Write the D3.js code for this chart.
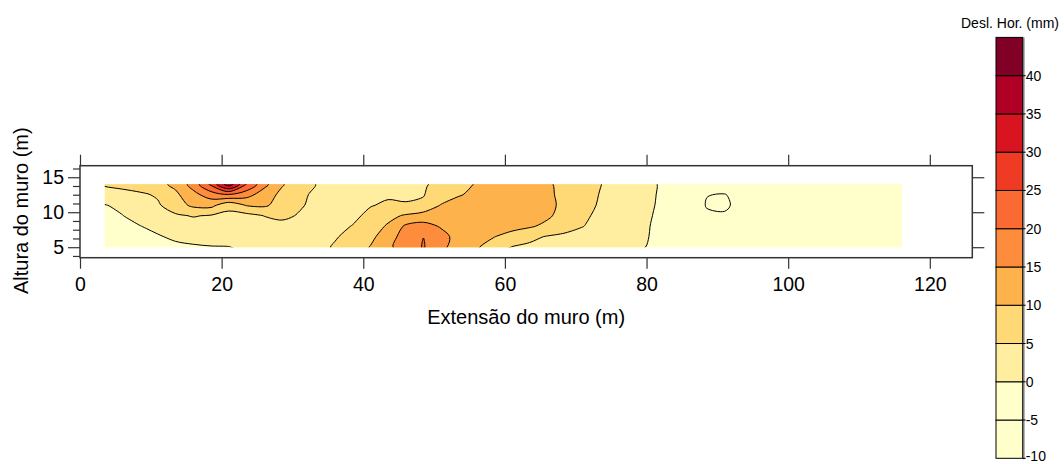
<!DOCTYPE html>
<html>
<head>
<meta charset="utf-8">
<script src="https://cdn.jsdelivr.net/npm/d3@7"></script>
<style>
  body { margin: 0; background: #fff; }
  text { font-family: "Liberation Sans", Arial, sans-serif; fill: #000; }
</style>
</head>
<body>
<svg id="chart" width="1064" height="464"></svg>
<script>
// grid positions (m)
var gridX = [3.5, 6, 8.5, 11, 13.5, 16, 18.5, 21, 23.5, 26, 28.5, 31, 33.5, 36, 38.5, 41,
  43.5, 46, 48.5, 51, 53.5, 56, 58.5, 61, 63.5, 66, 68.5, 71, 73.5, 76, 78.5, 81,
  83.5, 86, 88.5, 91, 93.5, 96, 98.5, 101, 103.5, 106, 108.5, 111, 113.5, 116];
var gridY = [5, 6.5, 8, 9.5, 11, 12.5, 14];

// deslocamento horizontal (mm), uma linha por altura
var row5 = [-4.6, -4.0, -3.0, -2.0, -1.0, -0.5, -0.2, -0.1, 0.7, 1.4,
  1.9, 2.4, 3.2, 5.6, 7.8, 10.2, 14.2, 17.0, 20.35, 16.0,
  13.0, 10.4, 8.1, 4.8, 4.2, 3.8, 3.4, 2.9, 2.4, 1.7,
  0.7, -0.6, -1.7, -2.3, -2.6, -2.8, -2.8, -2.8, -2.8, -2.8,
  -2.8, -2.8, -2.8, -2.8, -2.8, -2.8];
var row65 = [-4.2, -3.2, -1.9, -0.4, 0.8, 1.3, 1.5, 1.4, 1.8, 2.3,
  2.6, 2.7, 3.1, 4.5, 6.8, 8.9, 12.4, 17.6, 19.95, 16.3,
  13.6, 11.2, 10.1, 8.4, 6.0, 4.7, 4.0, 3.6, 3.0, 2.3,
  1.1, -0.4, -1.6, -2.3, -2.6, -2.8, -2.8, -2.8, -2.7, -2.7,
  -2.7, -2.7, -2.8, -2.8, -2.8, -2.8];
var row8 = [-3.2, -1.7, -0.1, 1.2, 2.2, 2.9, 3.1, 2.8, 2.6, 3.0,
  3.6, 3.2, 2.6, 3.5, 5.2, 7.6, 10.6, 15.8, 16.5, 14.6,
  13.2, 12.8, 11.9, 11.4, 10.6, 8.8, 6.8, 5.1, 3.7, 2.5,
  1.2, -0.3, -1.5, -2.2, -2.6, -2.9, -2.8, -2.7, -2.7, -2.7,
  -2.7, -2.7, -2.8, -2.8, -2.8, -2.8];
var row95 = [-1.8, -0.1, 1.6, 3.0, 4.3, 5.3, 4.6, 3.8, 3.5, 5.1,
  6.0, 4.6, 3.0, 2.4, 3.8, 6.3, 8.6, 10.6, 12.5, 12.8,
  13.3, 13.6, 13.7, 13.6, 12.8, 10.8, 8.0, 5.8, 4.0, 2.7,
  1.4, -0.1, -1.4, -2.2, -4.4, -4.5, -2.8, -2.7, -2.7, -2.7,
  -2.7, -2.7, -2.8, -2.8, -2.8, -2.8];
var row11 = [-0.2, 1.0, 2.8, 4.4, 7.8, 11.0, 11.5, 6.5, 10.3, 10.8,
  8.0, 5.5, 3.8, 2.8, 3.0, 4.7, 5.8, 5.2, 5.4, 10.4,
  12.2, 13.5, 14.2, 14.4, 13.8, 11.6, 8.4, 6.5, 4.5, 3.0,
  1.6, 0.1, -1.3, -2.2, -5.25, -5.7, -3.6, -2.6, -2.6, -2.7,
  -2.7, -2.7, -2.8, -2.8, -2.8, -2.8];
var row125 = [2.8, 3.3, 4.2, 5.6, 9.0, 13.5, 17.4, 19.5, 16.9, 12.5,
  8.8, 5.8, 4.2, 3.3, 3.3, 3.8, 4.3, 4.6, 4.9, 6.3,
  9.6, 11.3, 12.4, 12.8, 12.6, 11.0, 8.5, 6.6, 4.8, 3.2,
  1.8, 0.2, -1.2, -2.3, -4.9, -5.2, -3.5, -2.7, -2.7, -2.8,
  -2.8, -2.8, -2.8, -2.8, -2.8, -2.8];
var row14 = [5.6, 6.5, 7.5, 8.5, 11.2, 17.0, 26.0, 38.0, 25.0, 16.5,
  10.5, 7.0, 4.8, 3.8, 3.5, 3.6, 3.9, 4.3, 4.6, 6.0,
  8.3, 10.4, 11.8, 12.3, 12.0, 10.6, 8.7, 7.0, 5.1, 3.3,
  1.9, 0.3, -1.2, -2.0, -2.4, -2.6, -2.6, -2.7, -2.7, -2.7,
  -2.8, -2.8, -2.8, -2.8, -2.8, -2.8];

var levels = [-10, -5, 0, 5, 10, 15, 20, 25, 30, 35, 40];
var levelColors = ["#ffffcc", "#ffffcc", "#ffeda0", "#fed976", "#feb24c", "#fd8d3c",
  "#fc6a33", "#ef3b24", "#d7141f", "#b10026", "#800026"];
var legendTop = 45;

var xTicks = [0, 20, 40, 60, 80, 100, 120];
var yTicks = [5, 10, 15];
var yMinorTicks = [3.75, 6.25, 7.5, 8.75, 11.25, 12.5, 13.75, 16.25];

var svg = d3.select("#chart");

var x = d3.scaleLinear().domain([0, 126]).range([80, 972.3]);
var y = d3.scaleLinear().domain([3.5, 16.65]).range([257.7, 165.7]);

// grade -> pixels (d3.contours coloca a amostra i em i + 0.5)
var nx = gridX.length, ny = gridY.length;
var stepX = gridX[1] - gridX[0], stepY = gridY[1] - gridY[0];
var gx = function(c) { return x(gridX[0] + (c - 0.5) * stepX); };
var gy = function(c) { return y(gridY[0] + (c - 0.5) * stepY); };

var values = [].concat(row5, row65, row8, row95, row11, row125, row14);
var contours = d3.contours().size([nx, ny]).thresholds(levels)(values);

var ringLine = d3.line()
  .x(function(p) { return gx(p[0]); })
  .y(function(p) { return gy(p[1]); })
  .curve(d3.curveCatmullRomClosed.alpha(0.5));

function contourPath(mp) {
  return mp.coordinates.map(function(poly) {
    return poly.map(function(ring) { return ringLine(ring.slice(0, -1)); }).join("");
  }).join("");
}

var x0 = x(gridX[0]), x1 = x(gridX[nx - 1]);
var y0 = y(gridY[ny - 1]), y1 = y(gridY[0]);

svg.append("clipPath").attr("id", "dataClip")
  .append("rect")
  .attr("x", x0).attr("y", y0)
  .attr("width", x1 - x0).attr("height", y1 - y0);

var plot = svg.append("g").attr("clip-path", "url(#dataClip)");

plot.append("rect")
  .attr("x", x0).attr("y", y0)
  .attr("width", x1 - x0).attr("height", y1 - y0)
  .attr("fill", levelColors[0]);

plot.selectAll("path.band")
  .data(contours)
  .enter().append("path")
  .attr("class", "band")
  .attr("d", contourPath)
  .attr("fill", function(d, i) { return levelColors[i]; })
  .attr("fill-rule", "evenodd");

plot.selectAll("path.iso")
  .data(contours.slice(1))
  .enter().append("path")
  .attr("class", "iso")
  .attr("d", contourPath)
  .attr("fill", "none")
  .attr("stroke", "#000")
  .attr("stroke-width", 1);

// eixos
function styleAxis(g) {
  g.select(".domain").remove();
  g.selectAll(".tick line").attr("stroke", "#333").attr("stroke-width", 1.2);
  g.selectAll(".tick text").style("font-size", "19.5px").attr("fill", "#000");
}

svg.append("g")
  .attr("transform", "translate(0," + y(3.5) + ")")
  .call(d3.axisBottom(x).tickValues(xTicks).tickSize(11).tickPadding(8).tickFormat(d3.format("d")))
  .call(styleAxis);

svg.append("g")
  .attr("transform", "translate(0," + y(16.65) + ")")
  .call(d3.axisTop(x).tickValues(xTicks).tickSize(11).tickFormat(""))
  .call(styleAxis);

svg.append("g")
  .attr("transform", "translate(" + x(0) + ",0)")
  .call(d3.axisLeft(y).tickValues(yTicks).tickSize(12).tickPadding(4).tickFormat(d3.format("d")))
  .call(styleAxis);

svg.append("g")
  .attr("transform", "translate(" + x(0) + ",0)")
  .call(d3.axisLeft(y).tickValues(yMinorTicks).tickSize(7).tickFormat(""))
  .call(styleAxis);

svg.append("g")
  .attr("transform", "translate(" + x(126) + ",0)")
  .call(d3.axisRight(y).tickValues(yTicks).tickSize(12).tickFormat(""))
  .call(styleAxis);

svg.append("rect")
  .attr("x", x(0)).attr("y", y(16.65))
  .attr("width", x(126) - x(0)).attr("height", y(3.5) - y(16.65))
  .attr("fill", "none")
  .attr("stroke", "#333")
  .attr("stroke-width", 1.5);

svg.append("text")
  .attr("x", (x(0) + x(126)) / 2)
  .attr("y", 324)
  .attr("text-anchor", "middle")
  .style("font-size", "20px")
  .text("Extensão do muro (m)");

svg.append("text")
  .attr("transform", "translate(28," + ((y(3.5) + y(16.65)) / 2 - 1) + ") rotate(-90)")
  .attr("text-anchor", "middle")
  .style("font-size", "20px")
  .text("Altura do muro (m)");

// escala de cores
var yL = d3.scaleLinear().domain([-10, 45]).range([458.3, 37.4]);
var barX = 996, barW = 26.7;

svg.append("line")
  .attr("x1", barX + barW + 1).attr("x2", barX + barW + 1)
  .attr("y1", yL(legendTop)).attr("y2", yL(-10) + 1)
  .attr("stroke", "#999").attr("stroke-width", 2);

svg.selectAll("rect.legend")
  .data(levels)
  .enter().append("rect")
  .attr("class", "legend")
  .attr("x", barX)
  .attr("y", function(d, i) { return yL(i < levels.length - 1 ? levels[i + 1] : legendTop); })
  .attr("width", barW)
  .attr("height", function(d, i) {
    return yL(d) - yL(i < levels.length - 1 ? levels[i + 1] : legendTop);
  })
  .attr("fill", function(d, i) { return levelColors[i]; })
  .attr("stroke", "#000")
  .attr("stroke-width", 1);

svg.selectAll("line.legendTick")
  .data(levels)
  .enter().append("line")
  .attr("class", "legendTick")
  .attr("x1", barX + barW).attr("x2", barX + barW + 3)
  .attr("y1", function(d) { return yL(d); })
  .attr("y2", function(d) { return yL(d); })
  .attr("stroke", "#000");

svg.selectAll("text.legendLabel")
  .data(levels)
  .enter().append("text")
  .attr("class", "legendLabel")
  .attr("x", barX + barW + 3)
  .attr("y", function(d) { return yL(d); })
  .attr("dy", function(d) { return d === levels[0] ? "0.2em" : "0.36em"; })
  .style("font-size", "14px")
  .text(function(d) { return d; });

svg.append("text")
  .attr("x", 1010)
  .attr("y", 28)
  .attr("text-anchor", "middle")
  .style("font-size", "14px")
  .text("Desl. Hor. (mm)");
</script>
</body>
</html>
